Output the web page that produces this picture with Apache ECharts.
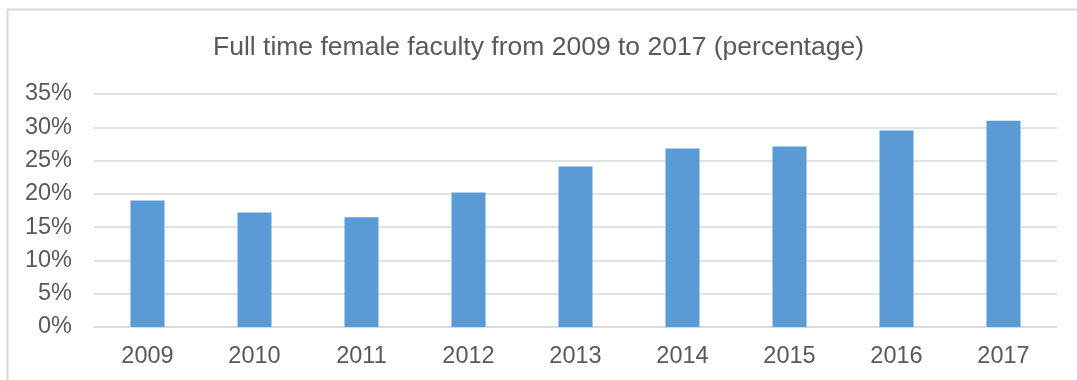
<!DOCTYPE html>
<html>
<head>
<meta charset="utf-8">
<script src="https://cdn.jsdelivr.net/npm/echarts@6/dist/echarts.min.js"></script>
<style>
html,body{margin:0;padding:0;background:#fff;}
#chart{width:1077px;height:380px;}
</style>
</head>
<body>
<div id="chart"></div>
<script>
// Full time female faculty share by year (percent)
const years = ['2009','2010','2011','2012','2013','2014','2015','2016','2017'];
const femaleShare = [19.0, 17.2, 16.5, 20.2, 24.1, 26.8, 27.1, 29.5, 31.0];

const chart = echarts.init(document.getElementById('chart'));
const textColor = '#595959';
const fontFamily = '"Liberation Sans", Arial, sans-serif';

chart.setOption({
  animation: false,
  backgroundColor: '#ffffff',
  textStyle: { fontFamily: fontFamily },
  title: {
    text: 'Full time female faculty from 2009 to 2017 (percentage)',
    left: 'center',
    top: 29,
    textStyle: { color: textColor, fontSize: 26.5, fontWeight: 'normal', fontFamily: fontFamily }
  },
  graphic: [{
    type: 'polyline',
    shape: { points: [[7.5, 380], [7.5, 9.5], [1077, 9.5]] },
    style: { stroke: '#d9d9d9', lineWidth: 2, fill: null },
    silent: true
  }],
  grid: { left: 94, right: 20, top: 94, bottom: 53 },
  xAxis: {
    type: 'category',
    data: years,
    axisLine: { show: true, lineStyle: { color: '#d9d9d9', width: 1.5 } },
    axisTick: { show: false },
    axisLabel: { color: textColor, fontSize: 23.5, margin: 18, fontFamily: fontFamily }
  },
  yAxis: {
    type: 'value',
    min: 0,
    max: 35,
    interval: 5,
    axisLine: { show: false },
    axisTick: { show: false },
    axisLabel: { color: textColor, fontSize: 23.5, margin: 22, formatter: '{value}%', fontFamily: fontFamily },
    splitLine: { lineStyle: { color: '#d9d9d9', width: 1.5 } }
  },
  series: [{
    type: 'bar',
    data: femaleShare,
    barWidth: 34,
    itemStyle: { color: '#5b9bd5' }
  }]
});
</script>
</body>
</html>
